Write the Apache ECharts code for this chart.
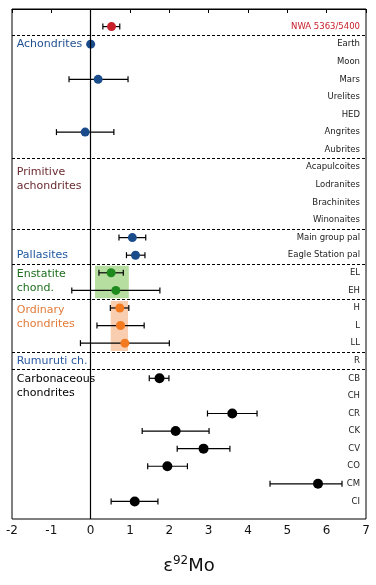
<!DOCTYPE html>
<html>
<head>
<meta charset="utf-8">
<script src="https://cdn.jsdelivr.net/npm/echarts@6/dist/echarts.min.js"></script>
<style>
  html, body { margin: 0; padding: 0; background: #fff; }
  #chart { width: 376px; height: 585px; }
</style>
</head>
<body>
<div id="chart"></div>
<script>
// row names, top to bottom (row 1 = top)
var rowNames = ['NWA 5363/5400', 'Earth', 'Moon', 'Mars', 'Urelites', 'HED', 'Angrites', 'Aubrites',
  'Acapulcoites', 'Lodranites', 'Brachinites', 'Winonaites', 'Main group pal', 'Eagle Station pal',
  'EL', 'EH', 'H', 'L', 'LL', 'R', 'CB', 'CH', 'CR', 'CK', 'CV', 'CO', 'CM', 'CI'];
// e92Mo mean and error bar ends (null = no data)
var epsMo   = [0.53, 0.00, null, 0.19, null, null, -0.14, null, null, null, null, null, 1.06, 1.14,
  0.52, 0.64, 0.74, 0.76, 0.87, null, 1.75, null, 3.60, 2.16, 2.87, 1.95, 5.78, 1.12];
var errLow  = [0.31, null, null, -0.55, null, null, -0.87, null, null, null, null, null, 0.72, 0.91,
  0.21, -0.48, 0.50, 0.16, -0.26, null, 1.49, null, 2.97, 1.31, 2.20, 1.45, 4.56, 0.52];
var errHigh = [0.74, null, null, 0.95, null, null, 0.59, null, null, null, null, null, 1.40, 1.38,
  0.83, 1.76, 0.97, 1.36, 2.00, null, 1.99, null, 4.23, 3.01, 3.54, 2.46, 6.39, 1.71];
var rowGroup = ['nwa', 'blue', 'blue', 'blue', 'blue', 'blue', 'blue', 'blue', 'blue', 'blue', 'blue', 'blue',
  'blue', 'blue', 'green', 'green', 'orange', 'orange', 'orange', 'blue',
  'black', 'black', 'black', 'black', 'black', 'black', 'black', 'black'];
var groupColors = { nwa: '#c8202a', blue: '#1a4c8c', green: '#1e8a1e', orange: '#f47a20', black: '#000000' };

// dashed separators between groups
var separators = [1.5, 8.5, 12.5, 14.5, 16.5, 19.5, 20.5];
// group names on the left: [x, row, text, colour]
var groupLabels = [
  [-1.88, 2, 'Achondrites', '#1f4f8f'],
  [-1.88, 9.7, 'Primitive\nachondrites', '#6a2a30'],
  [-1.88, 14, 'Pallasites', '#1f58a0'],
  [-1.88, 15.5, 'Enstatite\nchond.', '#1d6e1d'],
  [-1.88, 17.55, 'Ordinary\nchondrites', '#e27a38'],
  [-1.88, 20, 'Rumuruti ch.', '#2858a0'],
  [-1.88, 21.45, 'Carbonaceous\nchondrites', '#000000']
];
// shaded bands: [xFrom, xTo, rowFrom, rowTo, colour]
var bands = [
  [0.11, 0.97, 14.6, 16.45, '#b6dea0'],
  [0.51, 0.95, 16.6, 19.45, '#f9cdb0']
];

var dots = [], bars = [];
for (var i = 0; i < rowNames.length; i++) {
  var g = rowGroup[i];
  if (epsMo[i] !== null) {
    dots.push({ value: [epsMo[i], i + 1], symbolSize: g === 'black' ? 10 : 9, itemStyle: { color: groupColors[g], opacity: 1 } });
  }
  if (errLow[i] !== null) bars.push([i + 1, errLow[i], errHigh[i]]);
}

var chart = echarts.init(document.getElementById('chart'));
chart.setOption({
  animation: false,
  grid: { left: 12, right: 10, top: 9, bottom: 66, show: true, borderColor: '#000', borderWidth: 1, backgroundColor: 'transparent' },
  xAxis: {
    type: 'value', min: -2, max: 7, interval: 1,
    axisLine: { lineStyle: { color: '#000', width: 1 } },
    axisTick: { show: true, length: 4, lineStyle: { color: '#000' } },
    splitLine: { show: false },
    axisLabel: { color: '#111', fontSize: 12, fontFamily: 'DejaVu Sans', margin: 6 },
    name: 'ε{sup|92}Mo', nameLocation: 'middle', nameGap: 36,
    nameTextStyle: { fontSize: 18, color: '#111', fontFamily: 'DejaVu Sans', rich: { sup: { fontSize: 12, verticalAlign: 'top', padding: [0, 0, 10, 0], fontFamily: 'DejaVu Sans', color: '#111' } } }
  },
  yAxis: {
    type: 'value', inverse: true, min: 0, max: 29, interval: 1, position: 'right',
    axisLine: { show: false }, axisTick: { show: false }, splitLine: { show: false },
    axisLabel: {
      inside: true, margin: 6, fontSize: 8.5, fontFamily: 'DejaVu Sans', color: '#222',
      formatter: function (v) {
        var n = rowNames[v - 1];
        if (!n) return '';
        return v === 1 ? '{r|' + n + '}' : n;
      },
      rich: { r: { color: '#c8202a', fontSize: 8.5, fontFamily: 'DejaVu Sans' } }
    }
  },
  series: [
    {
      type: 'scatter', symbolSize: 0, silent: true, z: 1,
      itemStyle: { opacity: 1 },
      data: groupLabels.map(function (g) { return { value: [g[0], g[1]], label: { color: g[3] } }; }),
      label: {
        show: true, position: 'right', distance: 0, fontSize: 11, lineHeight: 14, fontFamily: 'DejaVu Sans', opacity: 1,
        formatter: function (p) { return groupLabels[p.dataIndex][2]; }
      },
      markArea: {
        silent: true,
        data: bands.map(function (b) {
          return [{ xAxis: b[0], yAxis: b[2], itemStyle: { color: b[4], opacity: 1 } }, { xAxis: b[1], yAxis: b[3] }];
        })
      },
      markLine: {
        silent: true, symbol: 'none', label: { show: false },
        data: separators.map(function (s) { return { yAxis: s, lineStyle: { type: [3, 2], color: '#000', width: 1, opacity: 1 } }; })
          .concat([{ xAxis: 0, lineStyle: { type: 'solid', color: '#000', width: 1.2, opacity: 1 } }])
      }
    },
    {
      type: 'custom', z: 3, data: bars,
      renderItem: function (params, api) {
        var row = api.value(0);
        var a = api.coord([api.value(1), row]);
        var b = api.coord([api.value(2), row]);
        var st = { stroke: '#000', lineWidth: 1.2 };
        return {
          type: 'group', children: [
            { type: 'line', shape: { x1: a[0], y1: a[1], x2: b[0], y2: b[1] }, style: st },
            { type: 'line', shape: { x1: a[0], y1: a[1] - 3, x2: a[0], y2: a[1] + 3 }, style: st },
            { type: 'line', shape: { x1: b[0], y1: b[1] - 3, x2: b[0], y2: b[1] + 3 }, style: st }
          ]
        };
      }
    },
    {
      type: 'scatter', z: 4, data: dots, itemStyle: { opacity: 1 }
    }
  ]
});
</script>
</body>
</html>
